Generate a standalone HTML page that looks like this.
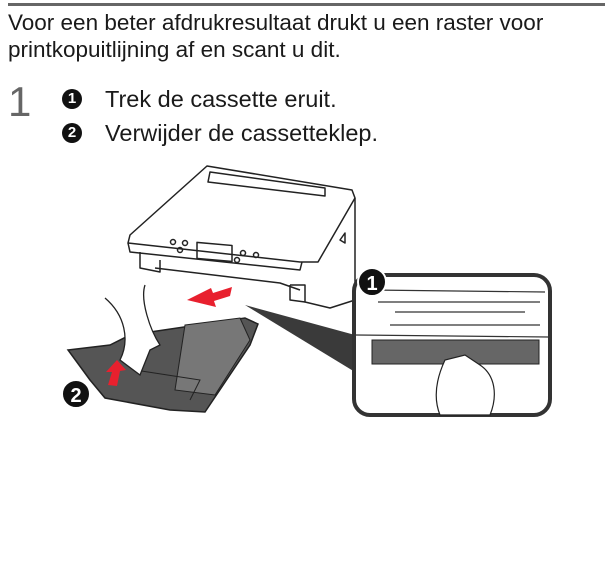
<!DOCTYPE html>
<html><head><meta charset="utf-8"><style>
html,body{margin:0;padding:0;background:#fff;width:605px;height:562px;overflow:hidden;position:relative;font-family:"Liberation Sans",Arial,sans-serif;color:#1a1a1a}
.t{position:absolute;white-space:nowrap}
.b{position:absolute;width:20px;height:20px;border-radius:50%;background:#111;color:#fff;font-weight:bold;font-size:15px;text-align:center;line-height:20px}
</style></head><body>
<div style="position:absolute;left:8px;top:3px;width:597px;height:3px;background:#666"></div>
<div class="t" style="left:8px;top:11px;font-size:22.5px;line-height:24px">Voor een beter afdrukresultaat drukt u een raster voor</div>
<div class="t" style="left:8px;top:38px;font-size:22.5px;line-height:24px">printkopuitlijning af en scant u dit.</div>
<div class="t" style="left:8px;top:79px;font-size:42px;line-height:46px;color:#666">1</div>
<div class="b" style="left:62px;top:89px">1</div>
<div class="b" style="left:62px;top:123px">2</div>
<div class="t" style="left:105px;top:86px;font-size:23.5px;line-height:27px">Trek de cassette eruit.</div>
<div class="t" style="left:105px;top:120px;font-size:23.5px;line-height:27px">Verwijder de cassetteklep.</div>
<svg style="position:absolute;left:0;top:0" width="605" height="562" viewBox="0 0 605 562">
<g fill="none" stroke="#222" stroke-width="1.5" stroke-linejoin="round">
<path d="M207,166 L352,190 L355,198 L318,262 L300,262 L128,243 L130,235 Z" fill="#fff"/>
<path d="M210,172 L325,188 L325,196 L208,182 Z"/>
<path d="M128,243 L130,252 L300,270 L302,262"/>
<path d="M355,198 L355,300 L330,308 L305,302 L305,285 L290,285"/>
<path d="M140,252 L140,268 L160,272 L160,260"/>
<path d="M155,268 L280,283 L300,290"/>
<path d="M290,285 L290,300 L305,302"/>
<rect x="197" y="244" width="35" height="16" transform="skewY(5)" transform-origin="215 252"/>
<circle cx="173" cy="242" r="2.5"/><circle cx="185" cy="243" r="2.5"/><circle cx="180" cy="250" r="2.5"/>
<circle cx="243" cy="253" r="2.5"/><circle cx="256" cy="255" r="2.5"/><circle cx="237" cy="260" r="2.5"/>
<path d="M340,240 L345,233 L345,243 Z"/>
</g>
<path d="M232,287 L213,293 L211,288 L187,300 L216,307 L214,301 L230,296 Z" fill="#e8202e"/>
<path d="M245,305 L355,335 L355,372 Z" fill="#3a3a3a"/>
<path d="M68,350 L110,345 L130,335 L245,318 L258,324 L250,345 L205,412 L170,410 L105,398 L90,380 Z" fill="#555" stroke="#222" stroke-width="1.5"/>
<path d="M185,325 L240,318 L250,340 L215,395 L175,390 Z" fill="#777" stroke="#222"/>
<path d="M135,370 L200,380 L190,400" fill="none" stroke="#222"/>
<path d="M105,298 C125,315 130,340 120,360 L140,375 L150,350 L160,345 C150,330 140,300 145,285" fill="#fff" stroke="#222" stroke-width="1.3"/>
<path d="M108,385 L112,372 L106,372 L117,360 L126,370 L120,371 L117,386 Z" fill="#e8202e"/>
<rect x="354" y="275" width="196" height="140" rx="16" fill="#fff" stroke="#333" stroke-width="4"/>
<g stroke="#333" fill="none" stroke-width="1.2">
<path d="M370,290 L545,292"/><path d="M378,302 L540,302"/>
<path d="M395,312 L525,312"/><path d="M390,325 L540,325"/>
<path d="M356,335 L548,337"/>
</g>
<rect x="372" y="340" width="167" height="24" fill="#666" stroke="#222"/>
<path d="M445,360 C438,375 432,395 440,415 L490,415 C498,395 495,375 480,365 L465,355 Z" fill="#fff" stroke="#222" stroke-width="1.2"/>
<circle cx="372" cy="282" r="14" fill="#111" stroke="#fff" stroke-width="2"/>
<text x="372" y="290" font-family="Liberation Sans,sans-serif" font-weight="bold" font-size="20" fill="#fff" text-anchor="middle">1</text>
<circle cx="76" cy="394" r="14" fill="#111" stroke="#fff" stroke-width="2"/>
<text x="76" y="402" font-family="Liberation Sans,sans-serif" font-weight="bold" font-size="20" fill="#fff" text-anchor="middle">2</text>
</svg>
</body></html>
